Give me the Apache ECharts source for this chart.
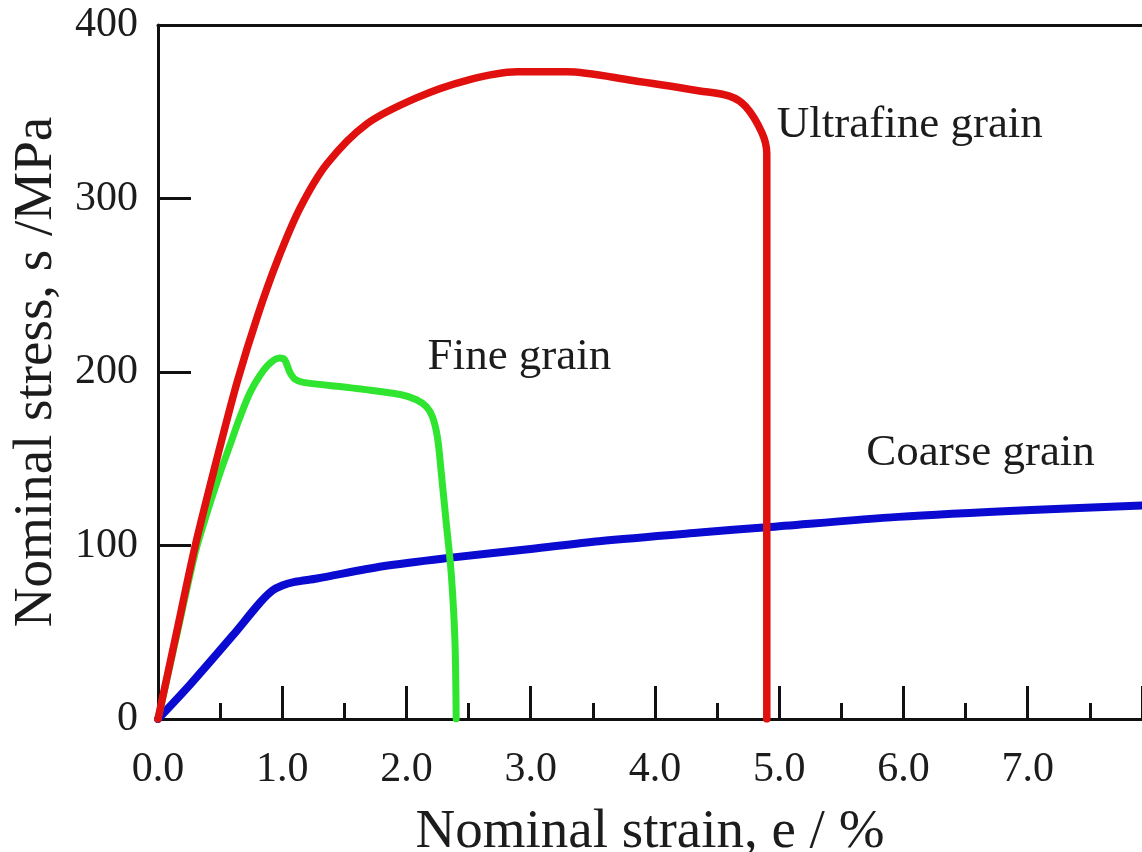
<!DOCTYPE html>
<html>
<head>
<meta charset="utf-8">
<script src="https://cdn.jsdelivr.net/npm/echarts@6/dist/echarts.min.js"></script>
<style>
  html, body { margin: 0; padding: 0; background: #ffffff; }
  #chart { width: 1142px; height: 852px; }
</style>
</head>
<body>
<div id="chart"></div>
<script>
// Nominal strain (%) and nominal stress (MPa) for each grain size
const ultrafineStrain = [0, 0.15, 0.30, 0.51, 0.64, 0.80, 0.96, 1.14, 1.36, 1.68, 2.08, 2.48, 2.89, 3.29, 3.82, 4.36, 4.60, 4.73, 4.86, 4.90, 4.90];
const ultrafineStress = [0, 50, 100, 160, 195, 232, 264, 294, 320, 343, 358, 368, 373, 373, 368, 362, 359, 353, 338, 326, 0];

const fineStrain = [0, 0.15, 0.30, 0.40, 0.50, 0.58, 0.66, 0.74, 0.82, 0.90, 0.98, 1.02, 1.06, 1.10, 1.17, 1.54, 1.95, 2.08, 2.16, 2.21, 2.25, 2.28, 2.32, 2.36, 2.39, 2.40];
const fineStress = [0, 48, 96, 120, 142, 158, 174, 188, 198, 205, 208, 207, 200, 196, 194, 191, 187, 184, 180, 174, 162, 142, 113, 84, 45, 0];

const coarseStrain = [0, 0.26, 0.60, 0.82, 0.92, 1.00, 1.10, 1.28, 1.81, 2.36, 3.00, 3.55, 4.36, 4.90, 5.96, 7.03, 7.92];
const coarseStress = [0, 20, 48, 67, 74, 77, 79, 81, 88, 93, 98, 102.5, 107.5, 110.5, 116.5, 120.5, 123];

const seriesNames = ['Ultrafine grain', 'Fine grain', 'Coarse grain'];

// Axis settings
const xTicks = [0, 1, 2, 3, 4, 5, 6, 7];
const yTicks = [0, 100, 200, 300, 400];
const xTitle = 'Nominal strain, e / %';
const yTitle = 'Nominal stress, s /MPa';

// Where each curve's caption sits, in axis units
const captionAnchors = {
  'Ultrafine grain': [4.98, 342],
  'Fine grain': [2.17, 208.5],
  'Coarse grain': [5.70, 153]
};

const pair = (xs, ys) => xs.map((x, i) => [x, ys[i]]);

const serif = '"Liberation Serif", "DejaVu Serif", serif';
const textColor = '#1c1c1c';
const axisColor = '#111111';

function curve(name, xs, ys, color, width, z) {
  return {
    name: name,
    type: 'line',
    data: pair(xs, ys),
    showSymbol: false,
    symbol: 'none',
    smooth: 0.3,
    z: z,
    lineStyle: { color: color, width: width, cap: 'round', join: 'round' },
    animation: false
  };
}

const chart = echarts.init(document.getElementById('chart'), null, { renderer: 'canvas' });

chart.setOption({
  backgroundColor: '#ffffff',
  animation: false,
  grid: { left: 158, top: 25, right: 0, bottom: 133, containLabel: false, outerBoundsMode: 'none' },
  xAxis: [
    {
      type: 'value',
      min: xTicks[0],
      max: 7.92,
      interval: 1,
      position: 'bottom',
      name: xTitle,
      nameLocation: 'middle',
      nameGap: 86,
      nameTextStyle: { fontFamily: serif, fontSize: 55, color: textColor },
      axisLine: { show: true, onZero: false, lineStyle: { color: axisColor, width: 3 } },
      axisTick: { show: true, inside: true, length: 33, lineStyle: { color: axisColor, width: 3 } },
      minorTick: { show: true, splitNumber: 2, length: 16, lineStyle: { color: axisColor, width: 3 } },
      axisLabel: {
        show: true,
        margin: 30,
        showMaxLabel: false,
        fontFamily: serif,
        fontSize: 42,
        color: textColor,
        formatter: v => (xTicks.indexOf(v) >= 0 ? v.toFixed(1) : '')
      },
      splitLine: { show: false },
      minorSplitLine: { show: false }
    },
    {
      type: 'value',
      min: xTicks[0],
      max: 7.92,
      position: 'top',
      axisLine: { show: true, onZero: false, lineStyle: { color: axisColor, width: 3 } },
      axisTick: { show: false },
      axisLabel: { show: false },
      splitLine: { show: false }
    }
  ],
  yAxis: {
    type: 'value',
    min: yTicks[0],
    max: yTicks[yTicks.length - 1],
    interval: 100,
    name: yTitle,
    nameLocation: 'middle',
    nameGap: 86,
    nameTextStyle: { fontFamily: serif, fontSize: 55, color: textColor },
    axisLine: { show: true, onZero: false, lineStyle: { color: axisColor, width: 3 } },
    axisTick: { show: true, inside: true, length: 33, lineStyle: { color: axisColor, width: 3 } },
    axisLabel: {
      show: true,
      margin: 20,
      fontFamily: serif,
      fontSize: 42,
      color: textColor,
      formatter: v => String(v)
    },
    splitLine: { show: false }
  },
  series: [
    curve(seriesNames[2], coarseStrain, coarseStress, '#0a0ad0', 8, 2),
    curve(seriesNames[1], fineStrain, fineStress, '#2fe52f', 7, 3),
    curve(seriesNames[0], ultrafineStrain, ultrafineStress, '#e0100f', 7.5, 4),
    {
      name: 'captions',
      type: 'scatter',
      symbolSize: 0,
      silent: true,
      z: 5,
      itemStyle: { opacity: 1 },
      data: seriesNames.map(n => ({ name: n, value: captionAnchors[n] })),
      label: {
        show: true,
        position: 'right',
        distance: 0,
        opacity: 1,
        formatter: p => p.name,
        fontFamily: serif,
        fontSize: 45,
        color: textColor
      },
      animation: false
    }
  ]
});
</script>
</body>
</html>
